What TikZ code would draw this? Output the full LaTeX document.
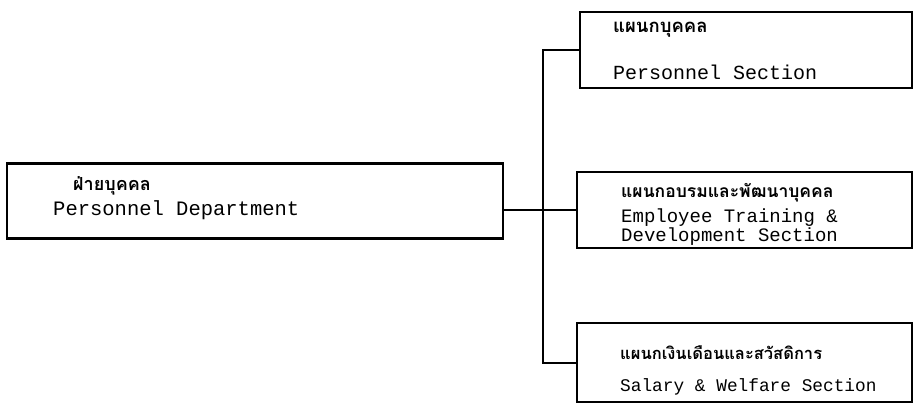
\documentclass[tikz,border=0pt]{standalone}
\usepackage{fontspec}
\setmonofont{Liberation Mono}
\newfontfamily\thaifont[Script=Thai]{Loma}
\begin{document}
\begin{tikzpicture}[x=1pt,y=-1pt,
  box/.style={draw, line width=2.2pt, rectangle, inner sep=0pt},
  thai/.style={font=\thaifont\bfseries\fontsize{18}{20}\selectfont, anchor=west, inner sep=0pt},
  eng/.style={font=\ttfamily\fontsize{19}{21}\selectfont, anchor=west, inner sep=0pt, align=left},
  conn/.style={line width=2pt}]
\useasboundingbox (0,0) rectangle (915,405);
% boxes
\node[box, minimum width=496pt, minimum height=75pt] (dept) at (255,201) {};
\node[box, minimum width=332pt, minimum height=76pt] (sec1) at (746,50) {};
\node[box, minimum width=335pt, minimum height=76pt] (sec2) at (744.5,210) {};
\node[box, minimum width=335pt, minimum height=79pt] (sec3) at (744.5,362.5) {};
% texts
\node[thai] (t0) at (73,186) {ฝ่ายบุคคล};
\node[eng, font=\ttfamily\fontsize{20.5}{22}\selectfont] (e0) at (53,210) {Personnel Department};
\node[thai, font=\thaifont\bfseries\fontsize{18.5}{20}\selectfont] (t1) at (613,30) {แผนกบุคคล};
\node[eng, font=\ttfamily\fontsize{20}{22}\selectfont] (e1) at (613,72) {Personnel Section};
\node[thai, font=\thaifont\bfseries\fontsize{17.5}{20}\selectfont] (t2) at (621,193) {แผนกอบรมและพัฒนาบุคคล};
\node[eng, font=\ttfamily\fontsize{19}{17}\selectfont] (e2) at (621,227) {Employee Training \&\\Development Section};
\node[thai, font=\thaifont\bfseries\fontsize{16.5}{20}\selectfont] (t3) at (620,353) {แผนกเงินเดือนและสวัสดิการ};
\node[eng, font=\ttfamily\fontsize{17.8}{20}\selectfont] (e3) at (620,387) {Salary \& Welfare Section};
% connectors
\coordinate (trunk) at (543,0);
\draw[conn] (sec1.west) -- (sec1.west -| trunk) -- (sec3.west -| trunk) -- (sec3.west);
\draw[conn] (dept.east |- sec2.west) -- (sec2.west);
\end{tikzpicture}
\end{document}
